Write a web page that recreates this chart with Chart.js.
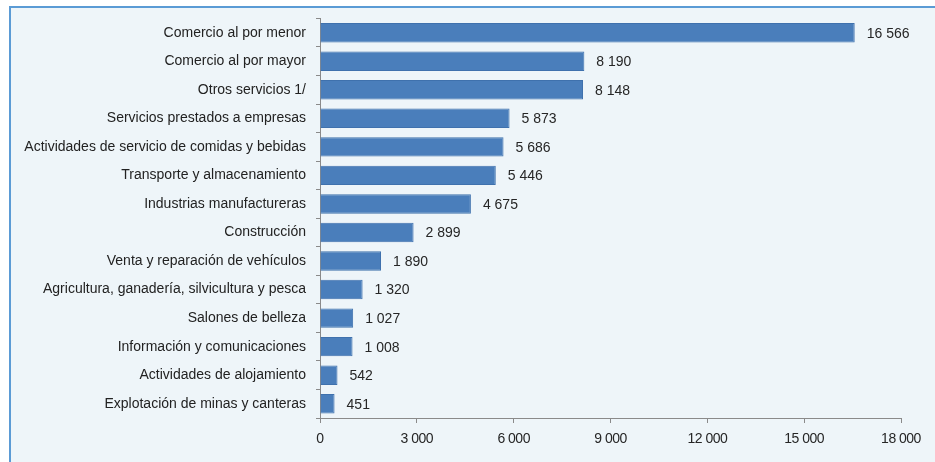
<!DOCTYPE html>
<html>
<head>
<meta charset="utf-8">
<script src="https://cdn.jsdelivr.net/npm/chart.js@4"></script>
<style>
  body { margin: 0; background: #fff; }
  .frame {
    position: absolute; left: 9px; top: 6px; width: 926px; height: 456px;
    border-top: 2px solid #5b9bd5; border-left: 2px solid #5b9bd5;
    background: #eef5f9;
  }
  #wrap { position: absolute; left: 0; top: 0; width: 935px; height: 462px; }
</style>
</head>
<body>
<div class="frame"></div>
<div id="wrap"><canvas id="barChart"></canvas></div>
<script>
const sectors = [
  'Comercio al por menor',
  'Comercio al por mayor',
  'Otros servicios 1/',
  'Servicios prestados a empresas',
  'Actividades de servicio de comidas y bebidas',
  'Transporte y almacenamiento',
  'Industrias manufactureras',
  'Construcción',
  'Venta y reparación de vehículos',
  'Agricultura, ganadería, silvicultura y pesca',
  'Salones de belleza',
  'Información y comunicaciones',
  'Actividades de alojamiento',
  'Explotación de minas y canteras'
]
const units = [16566, 8190, 8148, 5873, 5686, 5446, 4675, 2899, 1890, 1320, 1027, 1008, 542, 451]
const xTicks = [0, 3000, 6000, 9000, 12000, 15000, 18000]

// space as thousands separator
const fmt = n => String(n).replace(/\B(?=(\d{3})+(?!\d))/g, ' ')

const family = 'Liberation Sans, Arial, sans-serif'

// value labels at the end of each bar; x tick labels (z: 1) get drawn after this with tighter spacing
const valueLabels = {
  id: 'valueLabels',
  beforeDraw(chart) { chart.ctx.letterSpacing = '0px' },
  afterDatasetsDraw(chart) {
    const ctx = chart.ctx
    const meta = chart.getDatasetMeta(0)
    ctx.save()
    ctx.font = '14px ' + family
    ctx.fillStyle = '#262626'
    ctx.textBaseline = 'middle'
    meta.data.forEach((bar, i) => {
      ctx.fillText(fmt(units[i]), bar.x + 12, bar.y + 1)
    })
    ctx.restore()
    ctx.letterSpacing = '-0.5px'
  },
  afterDraw(chart) { chart.ctx.letterSpacing = '0px' }
}

const data = {
  labels: sectors,
  datasets: [{
    data: units,
    backgroundColor: '#4a7ebb',
    borderColor: '#3f71ad',
    borderWidth: 1,
    categoryPercentage: 1,
    barPercentage: 0.68
  }]
}

const config = {
  type: 'bar',
  data: data,
  plugins: [valueLabels],
  options: {
    indexAxis: 'y',
    responsive: true,
    maintainAspectRatio: false,
    animation: false,
    layout: { padding: { left: 0, top: 18, right: 34, bottom: 6 } },
    plugins: { legend: { display: false }, tooltip: { enabled: false } },
    scales: {
      x: {
        min: 0,
        max: 18000,
        afterBuildTicks: s => { s.ticks = xTicks.map(v => ({ value: v })) },
        afterFit: s => { s.height = 38 },
        border: { color: '#8a8a8a', width: 1 },
        grid: { drawOnChartArea: false, tickLength: 5, color: '#8a8a8a' },
        ticks: {
          z: 1,
          font: { family: family, size: 14 }, color: '#262626', padding: 8, maxRotation: 0,
          callback: v => fmt(v)
        }
      },
      y: {
        afterFit: s => { s.width = 320 },
        border: { color: '#8a8a8a', width: 1 },
        grid: { drawOnChartArea: false, tickLength: 4, color: '#8a8a8a' },
        ticks: { font: { family: family, size: 14 }, color: '#222', padding: 10 }
      }
    }
  }
}

const barChart = new Chart(document.getElementById('barChart'), config)
</script>
</body>
</html>
